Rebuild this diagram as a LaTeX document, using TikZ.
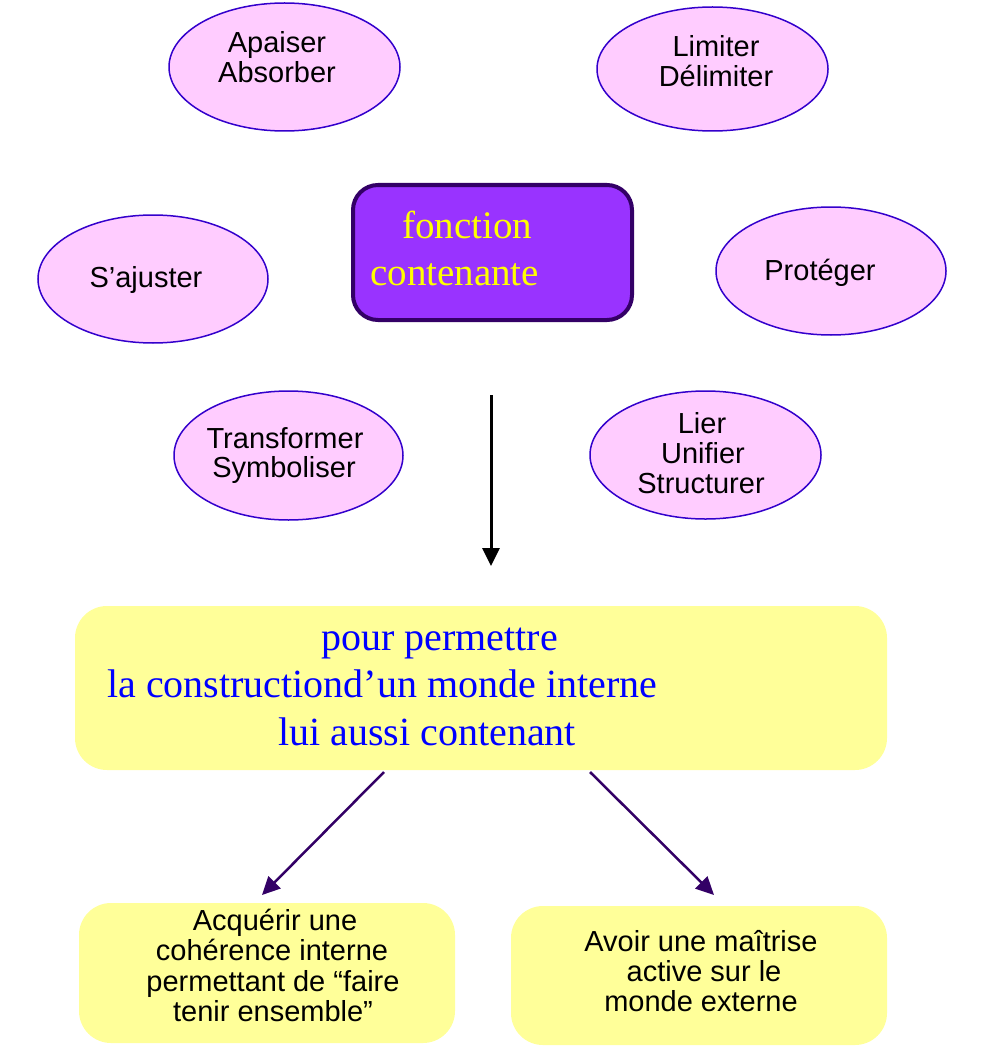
\documentclass[tikz,border=0pt]{standalone}
\usepackage{fontspec}
\setmainfont{Liberation Sans}
\newfontfamily\tms{Liberation Serif}
\usetikzlibrary{arrows.meta,shapes.geometric}
\definecolor{pinkfill}{HTML}{FFCCFF}
\definecolor{ellborder}{HTML}{3300CC}
\definecolor{purplefill}{HTML}{9933FF}
\definecolor{darkpurple}{HTML}{330066}
\definecolor{yelfill}{HTML}{FFFF99}
\definecolor{txtyellow}{HTML}{FFFF00}
\definecolor{txtblue}{HTML}{0000FF}
\tikzset{
  ell/.style={ellipse, draw=ellborder, line width=1.5pt, fill=pinkfill, inner sep=0pt, minimum width=230pt, minimum height=128pt},
  lbl/.style={anchor=base, inner sep=0pt, font=\fontsize{29}{30}\selectfont},
  serifline/.style={anchor=base west, inner sep=0pt, font=\tms\fontsize{40}{47}\selectfont, text=txtblue},
  purpleline/.style={anchor=base west, inner sep=0pt, font=\tms\fontsize{39}{47}\selectfont, text=txtyellow},
  yelbox/.style={fill=yelfill, rounded corners=32pt, inner sep=0pt},
  diagarrow/.style={draw=darkpurple, line width=2.5pt, -{Triangle[length=18pt,width=17pt]}}
}
\begin{document}
\begin{tikzpicture}[x=1pt,y=-1pt]
\useasboundingbox[fill=white] (0,0) rectangle (986,1051);

% ellipses
\node[ell, minimum width=231pt] (e1) at (284.5,67) {};
\node[ell, minimum width=231pt, minimum height=124pt] (e2) at (712.5,69) {};
\node[ell] (e3) at (153,279) {};
\node[ell] (e4) at (831,271) {};
\node[ell, minimum width=229pt, minimum height=129pt] (e5) at (288.5,455.5) {};
\node[ell, minimum width=231pt] (e6) at (705.5,455) {};

\node[lbl] (t1a) at (277,53) {Apaiser};
\node[lbl] (t1b) at (277,83) {Absorber};
\node[lbl] (t2a) at (716,57) {Limiter};
\node[lbl] (t2b) at (716,87) {Délimiter};
\node[lbl] (t3) at (146,287) {S’ajuster};
\node[lbl] (t4) at (820,280) {Protéger};
\node[lbl] (t5a) at (285,448) {Transformer};
\node[lbl] (t5b) at (284,477) {Symboliser};
\node[lbl] (t6a) at (702,433) {Lier};
\node[lbl] (t6b) at (703,463) {Unifier};
\node[lbl] (t6c) at (701,493) {Structurer};

% central purple box
\node[draw=darkpurple, line width=4pt, fill=purplefill, rounded corners=25pt,
      minimum width=279pt, minimum height=135pt, inner sep=0pt] (fc) at (492.5,252.5) {};
\node[purpleline] (fca) at (402,238) {fonction};
\node[purpleline] (fcb) at (370,285) {contenante};

% vertical arrow
\coordinate (va) at (491,395);
\coordinate (vb) at (491,566);
\draw[line width=3pt, -{Triangle[length=18pt,width=17pt]}] (va) -- (vb);

% big yellow box
\node[yelbox, minimum width=812pt, minimum height=164pt] (yb) at (481,688) {};
\node[serifline] (y1) at (321,650) {pour permettre};
\node[serifline] (y2) at (107,697) {la constructiond’un monde interne};
\node[serifline] (y3) at (278,745) {lui aussi contenant};

% bottom boxes
\node[yelbox, minimum width=376pt, minimum height=140pt] (bl) at (267,973) {};
\node[yelbox, minimum width=376pt, minimum height=139pt] (br) at (699,975.5) {};
\node[lbl] (bla) at (275,930) {Acquérir une};
\node[lbl] (blb) at (272,960) {cohérence interne};
\node[lbl] (blc) at (273,991) {permettant de “faire};
\node[lbl] (bld) at (273,1021) {tenir ensemble”};
\node[lbl] (bra) at (701,951) {Avoir une maîtrise};
\node[lbl] (brb) at (704,981) {active sur le};
\node[lbl] (brc) at (701,1011) {monde externe};

% diagonal arrows
\coordinate (da1) at (384,772);
\coordinate (db1) at (262,895);
\coordinate (da2) at (590,772);
\coordinate (db2) at (714,895);
\draw[diagarrow] (da1) -- (db1);
\draw[diagarrow] (da2) -- (db2);
\end{tikzpicture}
\end{document}
